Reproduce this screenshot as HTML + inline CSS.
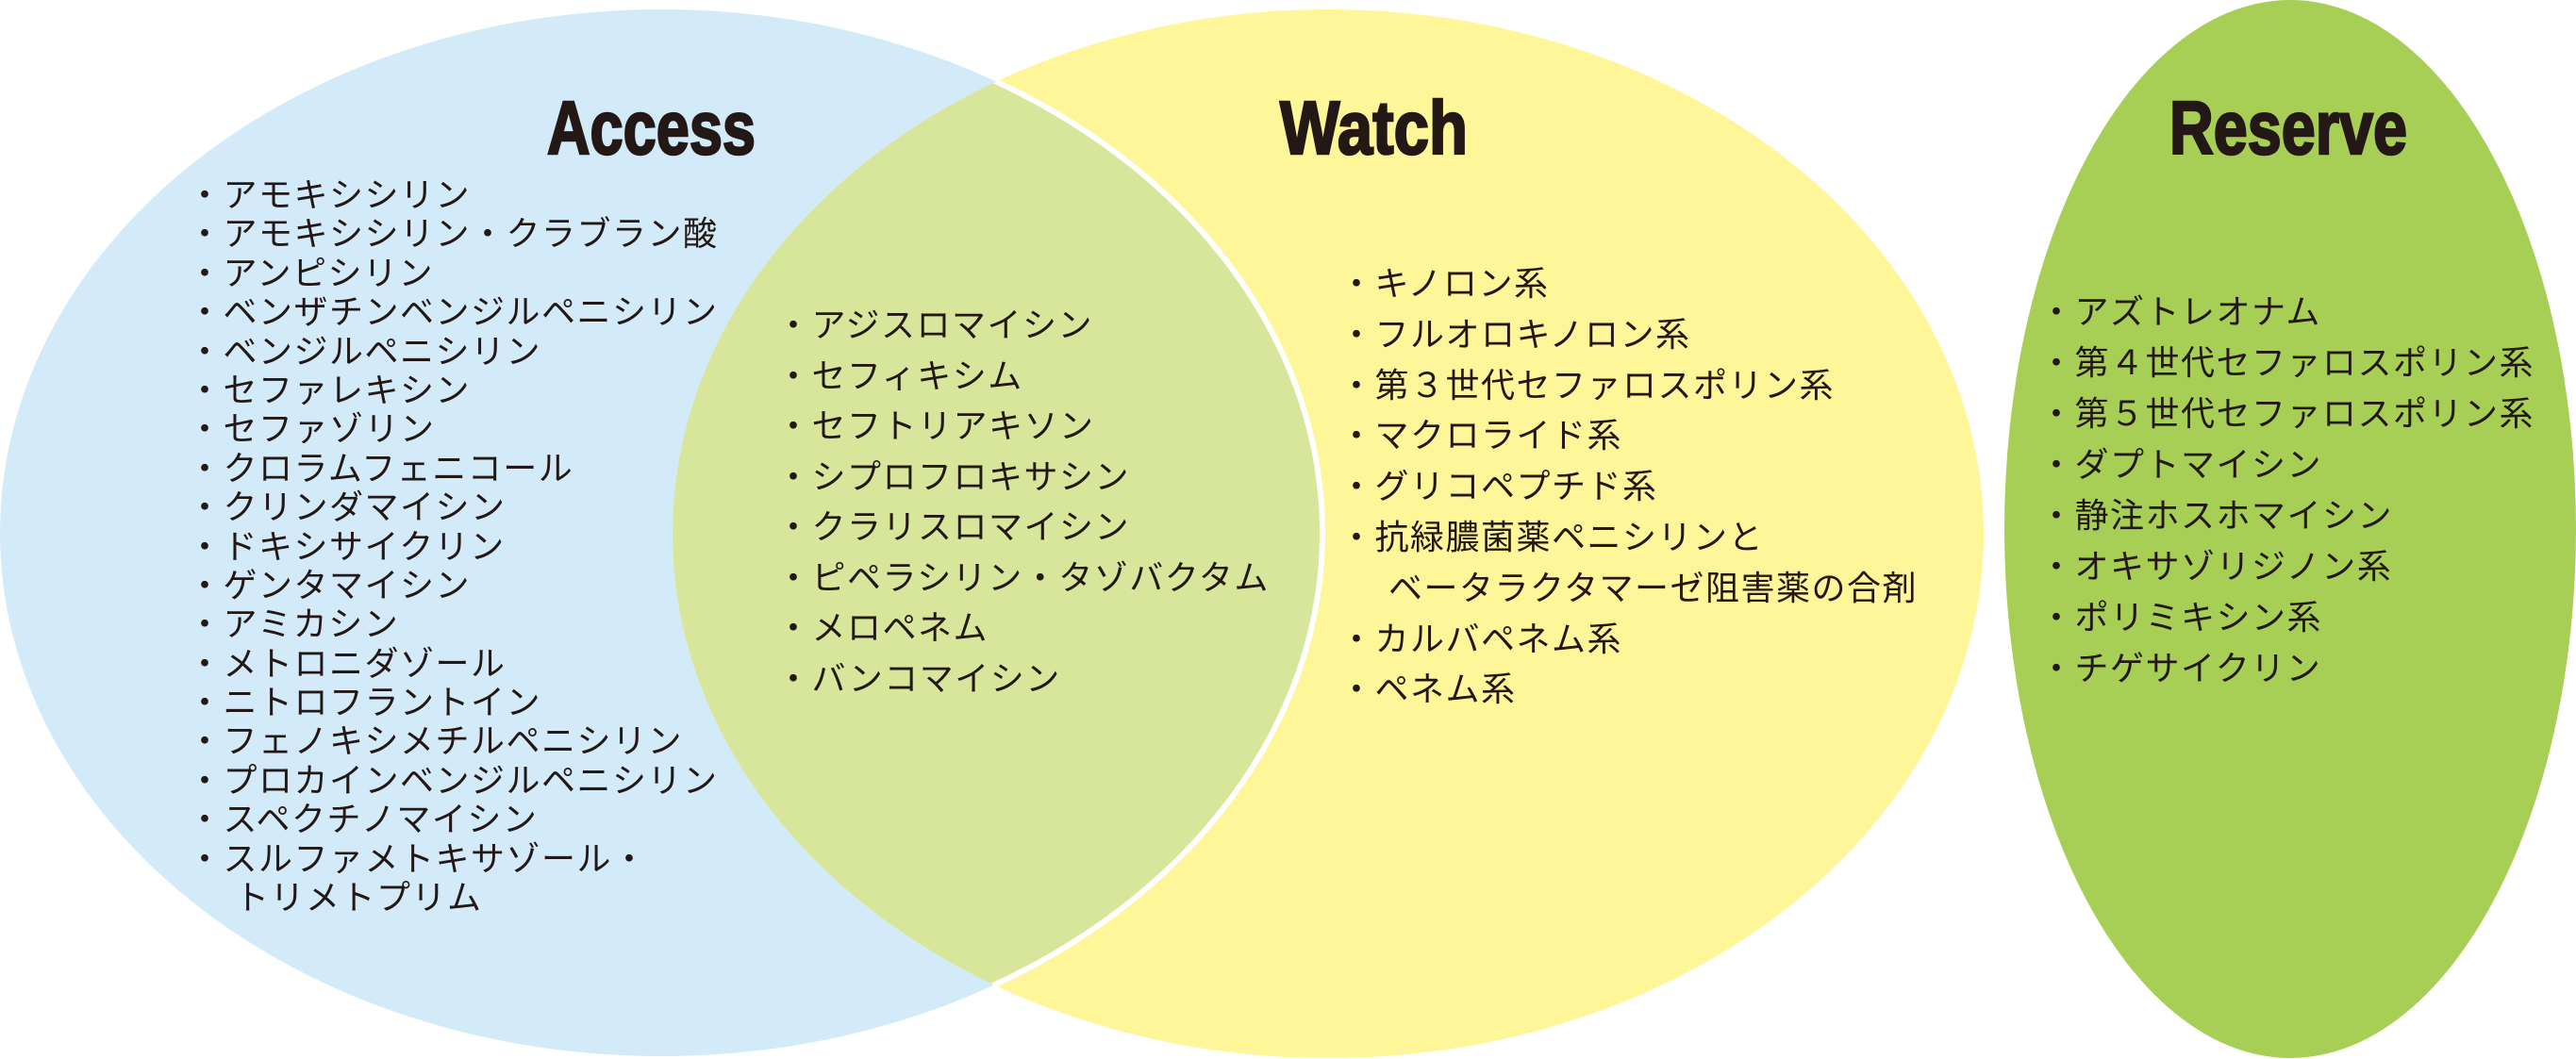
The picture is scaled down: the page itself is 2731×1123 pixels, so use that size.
<!DOCTYPE html>
<html><head><meta charset="utf-8">
<style>
html,body{margin:0;padding:0;background:#fff;}
#c{position:relative;width:2731px;height:1123px;overflow:hidden;}
svg{position:absolute;left:0;top:0;}
.l{position:absolute;font-family:"Liberation Sans","Noto Sans CJK JP",sans-serif;font-size:36px;color:#231815;letter-spacing:1.5px;white-space:nowrap;}
.l div{height:var(--lh);line-height:var(--lh);}
</style></head><body><div id="c">
<svg width="2731" height="1123" viewBox="0 0 2731 1123">
<defs>
<clipPath id="yc"><ellipse cx="1408" cy="566" rx="695" ry="556"/></clipPath>
</defs>
<ellipse cx="701" cy="565" rx="701" ry="555" fill="#d3ebf9"/>
<ellipse cx="1408" cy="566" rx="695" ry="556" fill="#fff69a"/>
<ellipse cx="701" cy="565" rx="701" ry="555" fill="#d7e69a" clip-path="url(#yc)"/>
<ellipse cx="701" cy="565" rx="701" ry="555" fill="none" stroke="#fff" stroke-width="6" clip-path="url(#yc)"/>
<ellipse cx="2428" cy="561" rx="303" ry="561" fill="#a8cf55"/>
<g font-family="'Liberation Sans Narrow','Liberation Sans',sans-serif" font-weight="bold" font-size="80" fill="#231815" stroke="#231815" stroke-width="2.5">
<text x="580" y="163" textLength="221" lengthAdjust="spacingAndGlyphs">Access</text>
<text x="1357" y="163" textLength="199" lengthAdjust="spacingAndGlyphs">Watch</text>
<text x="2300" y="163" textLength="252" lengthAdjust="spacingAndGlyphs">Reserve</text>
</g>
</svg>
<div class="l" style="--lh:41.4px;left:199px;top:186px;">
<div>・アモキシシリン</div>
<div>・アモキシシリン・クラブラン酸</div>
<div>・アンピシリン</div>
<div>・ベンザチンベンジルペニシリン</div>
<div>・ベンジルペニシリン</div>
<div>・セファレキシン</div>
<div>・セファゾリン</div>
<div>・クロラムフェニコール</div>
<div>・クリンダマイシン</div>
<div>・ドキシサイクリン</div>
<div>・ゲンタマイシン</div>
<div>・アミカシン</div>
<div>・メトロニダゾール</div>
<div>・ニトロフラントイン</div>
<div>・フェノキシメチルペニシリン</div>
<div>・プロカインベンジルペニシリン</div>
<div>・スペクチノマイシン</div>
<div>・スルファメトキサゾール・</div>
<div style="padding-left:50px">トリメトプリム</div>
</div>
<div class="l" style="--lh:53.5px;left:823px;top:318px;">
<div>・アジスロマイシン</div>
<div>・セフィキシム</div>
<div>・セフトリアキソン</div>
<div>・シプロフロキサシン</div>
<div>・クラリスロマイシン</div>
<div>・ピペラシリン・タゾバクタム</div>
<div>・メロペネム</div>
<div>・バンコマイシン</div>
</div>
<div class="l" style="--lh:53.8px;left:1420px;top:274px;">
<div>・キノロン系</div>
<div>・フルオロキノロン系</div>
<div>・第３世代セファロスポリン系</div>
<div>・マクロライド系</div>
<div>・グリコペプチド系</div>
<div>・抗緑膿菌薬ペニシリンと</div>
<div style="padding-left:52px">ベータラクタマーゼ阻害薬の合剤</div>
<div>・カルバペネム系</div>
<div>・ペネム系</div>
</div>
<div class="l" style="--lh:54px;left:2162px;top:304px;">
<div>・アズトレオナム</div>
<div>・第４世代セファロスポリン系</div>
<div>・第５世代セファロスポリン系</div>
<div>・ダプトマイシン</div>
<div>・静注ホスホマイシン</div>
<div>・オキサゾリジノン系</div>
<div>・ポリミキシン系</div>
<div>・チゲサイクリン</div>
</div>
</div></body></html>
